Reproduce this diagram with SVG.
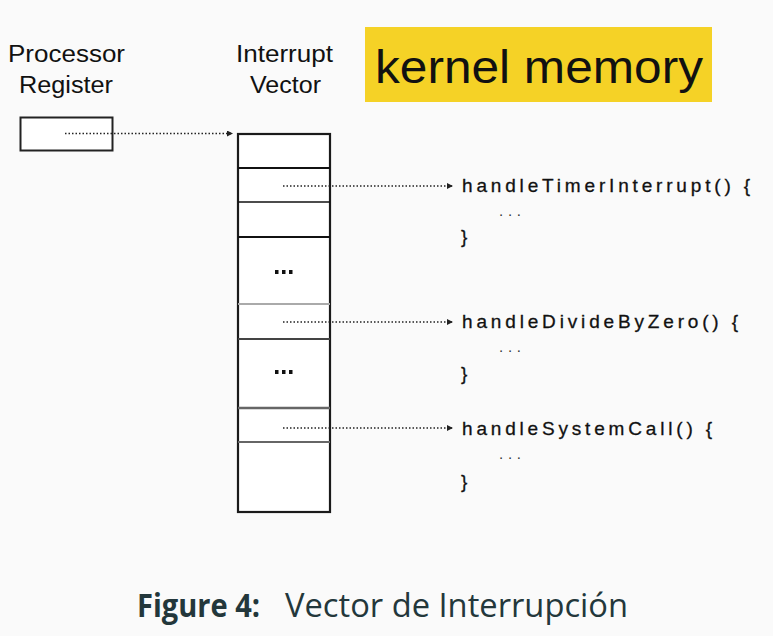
<svg xmlns="http://www.w3.org/2000/svg" width="773" height="636" viewBox="0 0 773 636">
<defs>
<style>
.lbl{font-family:"Liberation Sans",Arial,sans-serif;font-size:23px;fill:#111}
.code{font-family:"Liberation Sans",Arial,sans-serif;font-size:19px;fill:#111;stroke:#111;stroke-width:0.3}
.dots{font-family:"Liberation Sans",Arial,sans-serif;font-size:15px;fill:#333}
.conn{stroke:#222;stroke-width:1.3;stroke-dasharray:1.5 2;fill:none}
.cap{font-family:"Open Sans","Liberation Sans",sans-serif;font-size:32px;fill:#23373b}
</style>
<marker id="ah" viewBox="0 0 6 6" refX="5" refY="3" markerWidth="6" markerHeight="6" markerUnits="userSpaceOnUse" orient="auto">
<path d="M0,0 L6,3 L0,6 z" fill="#222"/>
</marker>
</defs>
<rect width="773" height="636" fill="#fafafa"/>

<g id="kernel-memory">
<rect x="365" y="27" width="347" height="75" fill="#f5d226"/>
<text x="375" y="83" font-family="Liberation Sans,Arial,sans-serif" font-size="46" fill="#111" textLength="328" lengthAdjust="spacingAndGlyphs">kernel memory</text>
</g>

<g id="processor-register">
<text class="lbl" x="8" y="62" textLength="117" lengthAdjust="spacingAndGlyphs">Processor</text>
<text class="lbl" x="19" y="93" textLength="94" lengthAdjust="spacingAndGlyphs">Register</text>
<rect x="20.5" y="117.5" width="92" height="33" fill="#fff" stroke="#222" stroke-width="2"/>
</g>

<g id="interrupt-vector">
<text class="lbl" x="236" y="62" textLength="97" lengthAdjust="spacingAndGlyphs">Interrupt</text>
<text class="lbl" x="250" y="93" textLength="71" lengthAdjust="spacingAndGlyphs">Vector</text>
<rect x="238" y="134" width="92" height="378" fill="#fff" stroke="#1a1a1a" stroke-width="2.2"/>
<line x1="238" y1="168" x2="330" y2="168" stroke="#111" stroke-width="2"/>
<line x1="238" y1="202" x2="330" y2="202" stroke="#111" stroke-width="1.4"/>
<line x1="238" y1="237" x2="330" y2="237" stroke="#111" stroke-width="2"/>
<line x1="238" y1="304" x2="330" y2="304" stroke="#aaa" stroke-width="2"/>
<line x1="238" y1="339" x2="330" y2="339" stroke="#444" stroke-width="2"/>
<line x1="238" y1="408" x2="330" y2="408" stroke="#666" stroke-width="2.5"/>
<line x1="238" y1="442" x2="330" y2="442" stroke="#666" stroke-width="2"/>
<g fill="#111">
<rect x="275" y="270" width="3.5" height="4"/><rect x="282" y="270" width="3.5" height="4"/><rect x="289" y="270" width="3.5" height="4"/>
<rect x="275" y="370" width="3.5" height="4"/><rect x="282" y="370" width="3.5" height="4"/><rect x="289" y="370" width="3.5" height="4"/>
</g>
</g>

<g id="handlers">
<text class="code" x="462" y="192" textLength="288" lengthAdjust="spacing">handleTimerInterrupt() {</text>
<text class="dots" x="499" y="216" textLength="22" lengthAdjust="spacing">...</text>
<text class="code" x="461" y="243">}</text>
<text class="code" x="462" y="328" textLength="276" lengthAdjust="spacing">handleDivideByZero() {</text>
<text class="dots" x="499" y="352" textLength="22" lengthAdjust="spacing">...</text>
<text class="code" x="461" y="380">}</text>
<text class="code" x="462" y="435" textLength="250" lengthAdjust="spacing">handleSystemCall() {</text>
<text class="dots" x="499" y="459" textLength="22" lengthAdjust="spacing">...</text>
<text class="code" x="461" y="488">}</text>
</g>

<g id="connectors">
<line class="conn" x1="65" y1="133.5" x2="232" y2="133.5" marker-end="url(#ah)"/>
<line class="conn" x1="283" y1="186" x2="452" y2="186" marker-end="url(#ah)"/>
<line class="conn" x1="283" y1="322" x2="452" y2="322" marker-end="url(#ah)"/>
<line class="conn" x1="283" y1="428" x2="452" y2="428" marker-end="url(#ah)"/>
</g>

<g id="caption">
<text class="cap" x="137" y="617" font-weight="bold" textLength="123" lengthAdjust="spacingAndGlyphs">Figure 4:</text>
<text class="cap" x="285" y="617" textLength="343" lengthAdjust="spacingAndGlyphs">Vector de Interrupción</text>
</g>
</svg>
